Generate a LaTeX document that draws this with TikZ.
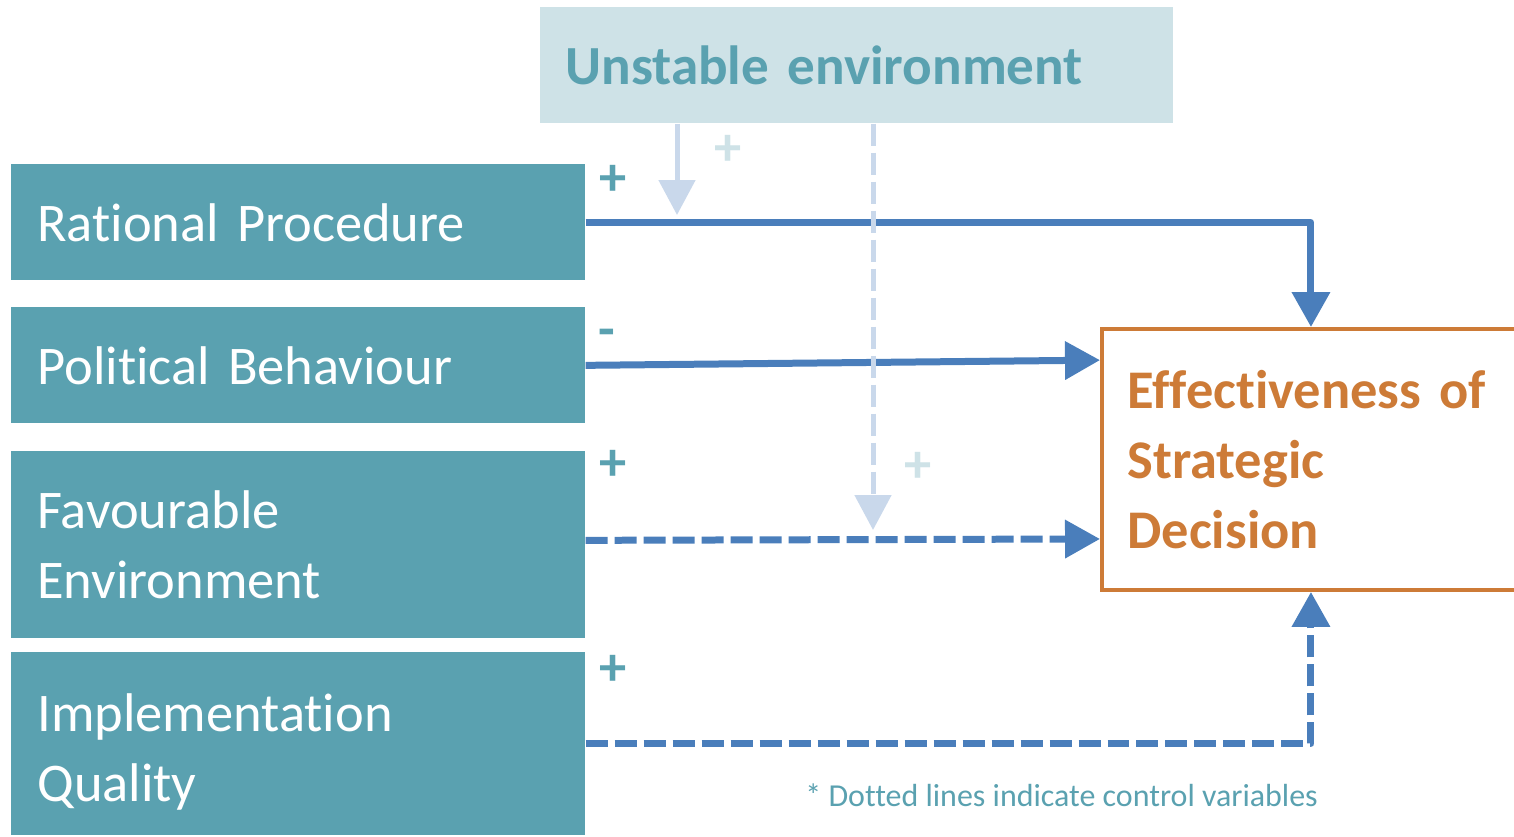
\documentclass[tikz,border=0pt]{standalone}
\usepackage{fontspec}
\setmainfont{Carlito}[Ligatures=NoCommon]
\usepackage{tikz}
\usetikzlibrary{arrows.meta, positioning, calc}
\definecolor{boxteal}{HTML}{5AA1B0}
\definecolor{paleteal}{HTML}{CEE2E7}
\definecolor{linkblue}{HTML}{4A7EBB}
\definecolor{paleblue}{HTML}{C9D8EB}
\definecolor{effect}{HTML}{CD7B37}

\begin{document}
\begin{tikzpicture}[x=0.02cm, y=-0.02cm,
    factor/.style={fill=boxteal, text=white, anchor=north west, minimum width=11.48cm,
      text width=10.44cm, inner xsep=0.52cm, align=left, font=\fontsize{31}{39.7}\selectfont},
    link/.style={linkblue, line width=0.14cm, line join=round, -{Triangle[width=0.74cm, length=0.7cm]}},
    control/.style={link, dash pattern=on 0.44cm off 0.14cm},
    moderator/.style={paleblue, line width=0.1cm, -{Triangle[width=0.72cm, length=0.7cm]}},
    sign/.style={text=boxteal, font=\bfseries\fontsize{31}{31}\selectfont},
    palesign/.style={text=paleteal, font=\bfseries\fontsize{31}{31}\selectfont}]
      \useasboundingbox (0,0) rectangle (1514,836);

      \node[fill=paleteal, text=boxteal, anchor=north west, minimum width=12.66cm, minimum height=2.32cm,
        text width=11.66cm, inner xsep=0.5cm, align=left, font=\bfseries\fontsize{31.4}{32}\selectfont]
        (unst) at (540,7) {Unstable environment};

      \node[factor, minimum height=2.32cm] (rat) at (11,164) {Rational Procedure};
      \node[factor, minimum height=2.32cm] (pol) at (11,307) {Political Behaviour};
      \node[factor, minimum height=3.74cm] (fav) at (11,451) {Favourable\\Environment};
      \node[factor, minimum height=3.66cm] (imp) at (11,652) {\rule{0pt}{31pt}Implementation\\Quality};

      \node[draw=effect, line width=0.08cm, text=effect, anchor=north west, minimum width=8.36cm,
        minimum height=5.22cm, text width=7.34cm, inner xsep=0.51cm, align=left,
        font=\bfseries\fontsize{31}{40}\selectfont]
        (eff) at (1100,327) {Effectiveness~of\\Strategic\\Decision};

      \draw[link] (rat.east) -| (eff.north);
      \draw[link] (pol.east) -- ($(eff.north west)!0.125!(eff.south west)$);
      \draw[control] ([yshift=0.09cm]fav.east) -- ($(eff.north west)!0.8!(eff.south west)$);
      \draw[control] (imp.east) -| (eff.south);

      \coordinate (hit1) at (677,215);
      \coordinate (hit2) at (873,530);
      \draw[moderator] (unst.south -| hit1) -- (hit1);
      \draw[moderator, dash pattern=on 0.44cm off 0.14cm] (unst.south -| hit2) -- (hit2);

      \node[sign] (s1) at (613,180) {+};
      \node[sign] (s2) at (607,338) {-};
      \node[sign] (s3) at (613,465) {+};
      \node[sign] (s4) at (613,670) {+};
      \node[palesign] (s5) at (728,150) {+};
      \node[palesign] (s6) at (918,467) {+};

      \node[anchor=base west, inner sep=0, text=boxteal, font=\fontsize{18.2}{20}\selectfont]
        (note) at (805,806) {* Dotted lines indicate control variables};
    \end{tikzpicture}
\end{document}
